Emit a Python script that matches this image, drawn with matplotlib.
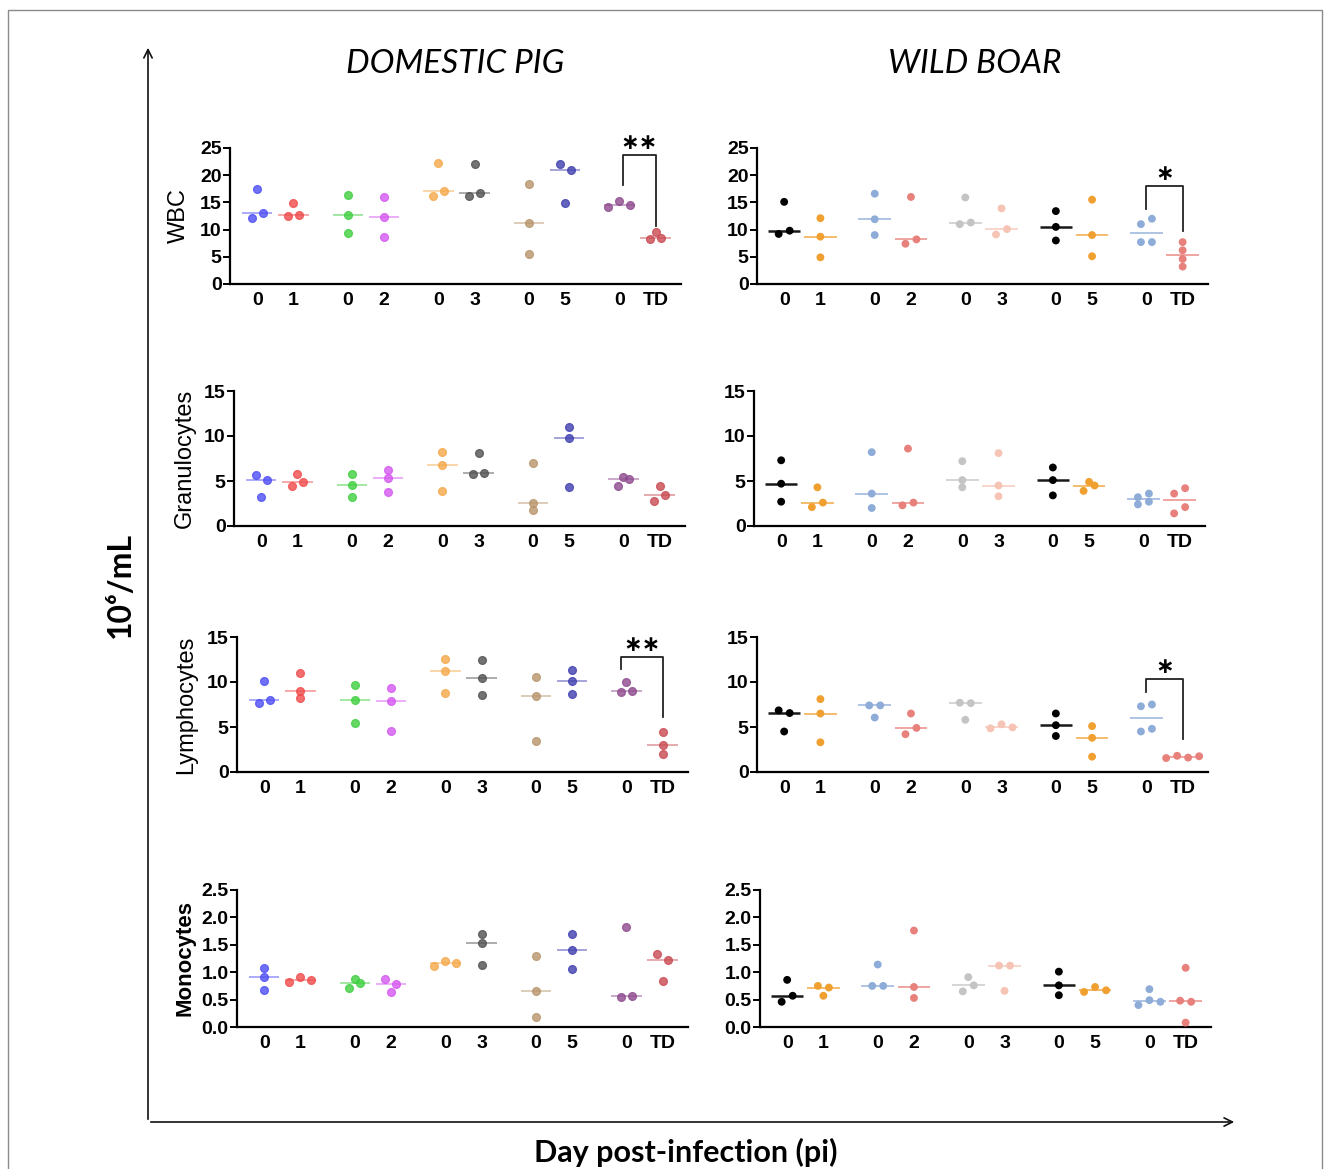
import numpy as np
import matplotlib.pyplot as plt
from matplotlib.patches import FancyArrowPatch, Rectangle

plt.rcParams['font.family'] = ['Liberation Sans', 'DejaVu Sans']

# categories (day pi) in pairs: 0 vs 1, 0 vs 2, 0 vs 3, 0 vs 5, 0 vs TD
days = ['0', '1', '0', '2', '0', '3', '0', '5', '0', 'TD']
xpos = [0, 1, 2.5, 3.5, 5, 6, 7.5, 8.5, 10, 11]

dp_colors = ['#4d4df5', '#f04b4b', '#3ecf3e', '#d457f0', '#f5a84a',
             '#505050', '#b8946a', '#3f3fb0', '#8e4a8e', '#c94a52']
wb_colors = ['#000000', '#f0a030', '#8eacd8', '#e8807c', '#c4c4c4',
             '#f5c4b5', '#000000', '#f0a030', '#8eacd8', '#e8807c']

# values (10^6/mL), one list per group, domestic pig (dp) and wild boar (wb)
wbc_dp = [[12.2, 17.4, 13.0], [12.5, 14.9, 12.7], [16.4, 12.7, 9.3], [16.0, 12.3, 8.7],
          [16.2, 22.3, 17.1], [16.2, 22.0, 16.8], [18.4, 11.3, 5.5], [22.1, 14.8, 20.9],
          [14.1, 15.2, 14.6], [9.6, 8.3, 8.4]]
wbc_wb = [[9.2, 15.1, 9.8], [12.1, 8.7, 4.9], [16.6, 11.9, 9.0], [7.4, 16.0, 8.2],
          [11.0, 15.9, 11.3], [9.1, 13.9, 10.1], [13.4, 10.5, 8.0], [15.5, 9.0, 5.1],
          [7.7, 11.0, 7.7, 12.0], [7.7, 6.2, 4.6, 3.2]]

gran_dp = [[5.7, 3.2, 5.1], [4.4, 5.8, 4.9], [5.8, 4.6, 3.2], [6.2, 5.3, 3.8],
           [8.2, 6.8, 3.9], [5.8, 8.1, 5.9], [7.0, 2.6, 1.8], [11.0, 9.8, 4.3],
           [5.5, 4.5, 5.2], [2.8, 4.5, 3.5]]
gran_wb = [[7.3, 4.7, 2.7], [2.1, 4.3, 2.6], [8.2, 3.6, 2.0], [2.3, 8.6, 2.6],
           [7.2, 5.1, 4.3], [8.1, 4.5, 3.3], [6.5, 5.1, 3.4], [3.9, 4.9, 4.5],
           [3.2, 2.4, 3.6, 2.7], [1.4, 3.6, 4.2, 2.1]]

lymph_dp = [[7.7, 10.1, 7.95], [11.0, 9.0, 8.2], [9.7, 8.0, 5.4], [9.3, 7.9, 4.6],
            [12.6, 11.2, 8.8], [12.4, 10.5, 8.6], [10.6, 8.4, 3.5], [11.3, 10.1, 8.7],
            [8.9, 10.0, 9.0], [4.4, 3.0, 2.0]]
lymph_wb = [[6.85, 4.5, 6.55], [8.1, 6.5, 3.3], [7.4, 6.05, 7.4], [4.2, 6.5, 4.9],
            [7.7, 5.8, 7.65], [4.85, 5.3, 4.95], [6.5, 5.2, 4.0], [5.1, 3.8, 1.7],
            [7.3, 4.5, 7.5, 4.8], [1.55, 1.8, 1.6, 1.75]]

mono_dp = [[1.08, 0.91, 0.67], [0.82, 0.91, 0.86], [0.88, 0.72, 0.81], [0.88, 0.63, 0.79],
           [1.12, 1.20, 1.16], [1.70, 1.53, 1.14], [1.29, 0.66, 0.18], [1.70, 1.40, 1.06],
           [0.54, 1.82, 0.56], [1.33, 0.84, 1.23]]
mono_wb = [[0.46, 0.86, 0.57], [0.75, 0.57, 0.72], [0.75, 1.14, 0.75], [1.76, 0.73, 0.53],
           [0.65, 0.91, 0.76], [1.12, 0.66, 1.12], [1.01, 0.76, 0.58], [0.64, 0.73, 0.67],
           [0.40, 0.49, 0.69, 0.46], [0.48, 1.08, 0.08, 0.46]]

W, H = 1331, 1169
fig = plt.figure(figsize=(W / 100, H / 100), dpi=100)


def box(left, top, bottom, width=451):
    return [left / W, 1 - bottom / H, width / W, (bottom - top) / H]


def spread(ax, x, vals, gap_px=11, tol_px=7):
    # simple column scatter: points close in y are pushed sideways
    pts = ax.transData.transform(np.column_stack([np.full(len(vals), x), vals]))
    ypx = pts[:, 1]
    unit = ax.transData.transform([[1, 0]])[0, 0] - ax.transData.transform([[0, 0]])[0, 0]
    order = np.argsort(ypx, kind='stable')
    rows = []
    for i in order:
        if rows and ypx[i] - ypx[rows[-1][0]] < tol_px:
            rows[-1].append(i)
        else:
            rows.append([i])
    xs = np.full(len(vals), float(x))
    for row in rows:
        row = sorted(row)
        n = len(row)
        for k, i in enumerate(row):
            xs[i] = x + (k - (n - 1) / 2) * gap_px / unit
    return xs


rows_cfg = [
    (wbc_dp, wbc_wb, 'WBC', 25, 5, 148, 284, (230, 757), 'normal', 17, -0.089),
    (gran_dp, gran_wb, 'Granulocytes', 15, 5, 391, 526, (234, 754), 'normal', 17, -0.084),
    (lymph_dp, lymph_wb, 'Lymphocytes', 15, 5, 637, 772, (237, 757), 'normal', 17, -0.088),
    (mono_dp, mono_wb, 'Monocytes', 2.5, 0.5, 890, 1027, (237, 760), 'bold', 16, -0.091),
]

axes = {}
for r, (d_dp, d_wb, name, ymax, ystep, top, bot, lefts, lw_, lsize, lx) in enumerate(rows_cfg):
    for c, (data, cols) in enumerate([(d_dp, dp_colors), (d_wb, wb_colors)]):
        ax = fig.add_axes(box(lefts[c], top, bot))
        axes[(r, c)] = ax
        ax.set_xlim(-0.75, 11.7)
        ax.set_ylim(0, ymax)
        for sp in ['top', 'right']:
            ax.spines[sp].set_visible(False)
        for sp in ['left', 'bottom']:
            ax.spines[sp].set_linewidth(1.6)
        ax.set_yticks(np.arange(0, ymax + ystep / 2, ystep))
        if ymax < 5:
            ax.set_yticklabels(['%.1f' % v for v in np.arange(0, ymax + ystep / 2, ystep)])
        ax.set_xticks(xpos)
        ax.set_xticklabels(days)
        ax.tick_params(axis='y', direction='out', length=5, width=1.4, pad=1, labelsize=14)
        ax.tick_params(axis='x', length=0, pad=6, labelsize=14)
        for lab in ax.get_xticklabels() + ax.get_yticklabels():
            lab.set_fontweight('bold')
        for x, vals, col in zip(xpos, data, cols):
            vals = np.array(vals)
            xs = spread(ax, x, vals)
            med = np.median(vals)
            if c == 0:
                ax.hlines(med, x - 0.42, x + 0.42, color=col, lw=1.1, alpha=0.6, zorder=2)
                ax.scatter(xs, vals, s=32, color=col, alpha=0.8, edgecolors=col,
                           linewidths=0.9, zorder=3, clip_on=False)
            else:
                lwm = 1.8 if col == '#000000' else 1.1
                ax.hlines(med, x - 0.45, x + 0.45, color=col, lw=lwm, alpha=0.9, zorder=2)
                ax.scatter(xs, vals, s=32, color=col, edgecolors='none', zorder=3, clip_on=False)
        if c == 0:
            ax.set_ylabel(name, fontsize=lsize, fontweight=lw_)
            ax.yaxis.set_label_coords(lx, 0.5)


def bracket(ax, x0, x1, y0, ytop, y1, ystar, stars):
    ax.plot([x0, x0, x1, x1], [y0, ytop, ytop, y1], color='#222222', lw=1.3, clip_on=False)
    ax.text((x0 + x1) / 2, ystar, stars, ha='center', va='center', fontsize=16,
            fontweight='bold', family=['DejaVu Sans'], clip_on=False)


bracket(axes[(0, 0)], 10.1, 11, 18.2, 23.8, 10.7, 25.9, '∗∗')
bracket(axes[(0, 1)], 10, 11, 13.7, 18.0, 9.8, 20.3, '∗')
bracket(axes[(2, 0)], 9.85, 11, 11.5, 12.8, 6.1, 14.1, '∗∗')
bracket(axes[(2, 1)], 10, 11, 8.9, 10.3, 3.7, 11.7, '∗')

# titles and global axis labels
fig.text(455 / W, 1 - 64 / H, 'DOMESTIC PIG', ha='center', va='center',
         fontsize=24, style='italic', family=['Lato', 'DejaVu Sans'])
fig.text(975 / W, 1 - 64 / H, 'WILD BOAR', ha='center', va='center',
         fontsize=24, style='italic', family=['Lato', 'DejaVu Sans'])
fig.text(120 / W, 1 - 585 / H, '10⁶/mL', ha='center', va='center', rotation=90,
         fontsize=23, fontweight='bold', family=['Lato', 'DejaVu Sans'])
fig.text(686 / W, 1 - 1152 / H, 'Day post-infection (pi)', ha='center', va='center',
         fontsize=22, fontweight='bold', family=['Lato', 'DejaVu Sans'])

# big arrows framing the panels
x_o, y_o = 148 / W, 1 - 1122 / H
fig.add_artist(FancyArrowPatch((x_o, y_o), (x_o, 1 - 45 / H), transform=fig.transFigure,
                               arrowstyle='->,head_length=6,head_width=3', lw=1.2, color='#111111'))
fig.add_artist(FancyArrowPatch((x_o, y_o), (1237 / W, y_o), transform=fig.transFigure,
                               arrowstyle='->,head_length=6,head_width=3', lw=1.2, color='#111111'))

# thin frame around the figure
fig.add_artist(Rectangle((8 / W, -0.01), (1322 - 8) / W, (1169 - 10) / H + 0.01,
                         transform=fig.transFigure, fill=False, edgecolor='#8a8a8a', lw=1.0))

fig.savefig('out.png', dpi=100)
